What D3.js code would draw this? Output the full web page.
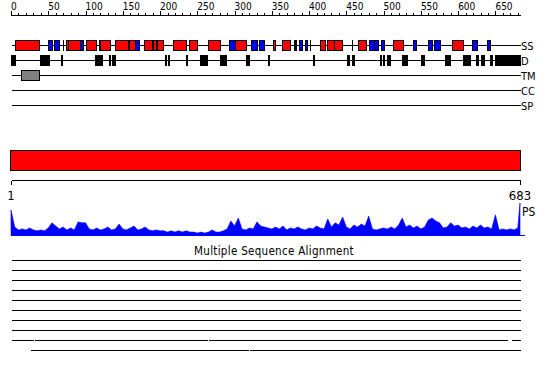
<!DOCTYPE html>
<html>
<head>
<meta charset="utf-8">
<script src="https://cdn.jsdelivr.net/npm/d3@7"></script>
<style>
  body { margin: 0; background: #fff; }
  svg { display: block; }
  text { font-family: "DejaVu Sans Condensed", "DejaVu Sans", sans-serif; fill: #000; }
</style>
</head>
<body>
<div id="chart"></div>
<script>
// sequence length and ruler ticks
const seqLength = 683;
const rulerMajor = [0, 50, 100, 150, 200, 250, 300, 350, 400, 450, 500, 550, 600, 650];
const rulerMinor = d3.range(0, 681, 10);

// track names, top to bottom
const tracks = ['SS', 'D', 'TM', 'CC', 'SP'];

// secondary structure: helices (red) and strands (blue), residue ranges
const helices = [[6,38],[74,93],[101,114],[119,133],[140,157],[159,167],[179,189],[190,194],
  [196,204],[218,235],[239,249],[265,281],[300,316],[351,354],[363,374],[414,421],[424,433],
  [434,444],[465,477],[513,526],[592,606]];
const strands = [[50,55],[58,64],[93,96],[118,119],[167,172],[292,300],[322,330],[333,340],
  [381,383],[387,391],[395,397],[481,487],[487,493],[497,501],[539,544],[560,565],[568,576],
  [619,625],[639,643]];
const ssSingles = [70, 77, 380, 394, 401, 457];

// disordered regions
const disorder = [[0,6],[39,51],[67,69],[113,122],[131,133],[135,140],[207,208],[211,212],
  [235,235],[253,263],[280,280],[282,288],[315,319],[345,346],[405,406],[451,453],[458,460],
  [495,497],[499,501],[504,508],[525,528],[529,532],[550,554],[582,589],[607,616],[624,627],
  [630,635],[643,645],[650,683]];

// transmembrane
const transmem = [[13,37]];

// conservation profile (PS), one value every 5 residues, last one at residue 683
const consStep = 5;
const consValues = [78,25,16,19,16,22,16,13,16,13,22,38,28,19,25,16,22,16,41,38,
  38,19,16,22,16,19,25,16,19,34,19,16,22,28,16,19,25,16,13,16,
  13,13,9,13,9,13,9,13,9,9,6,9,6,9,16,9,9,13,19,44,
  28,53,19,16,22,19,41,28,25,22,19,25,19,28,16,22,19,25,19,16,
  22,19,28,22,19,50,25,38,31,56,25,19,31,25,34,28,59,19,16,19,
  22,19,25,19,31,53,25,31,22,28,19,25,47,53,44,38,22,25,38,28,
  31,22,25,19,28,22,31,22,25,19,63,16,19,16,19,16,22,100];

// multiple sequence alignment hits, residue ranges per row
const alignRows = [
  [[0,683]],[[0,683]],[[0,683]],[[0,683]],[[0,683]],
  [[0,683]],[[0,683]],[[0,683]],
  [[0,29],[31,263],[265,666],[671,683]],
  [[26,318],[320,683]]
];

const w = 550, h = 380;
const svg = d3.select('#chart').append('svg')
  .attr('width', w)
  .attr('height', h);

const xScale = d3.scaleLinear().domain([0, seqLength]).range([11, 520]);
const px = v => Math.round(xScale(v)) + 0.5;

// top ruler
const ruler = svg.append('g').attr('stroke', '#000').attr('shape-rendering', 'crispEdges');
ruler.append('line')
  .attr('x1', px(0)).attr('x2', px(seqLength))
  .attr('y1', 15.5).attr('y2', 15.5);
ruler.selectAll('.minor')
  .data(rulerMinor)
  .enter()
  .append('line')
  .attr('x1', d => px(d)).attr('x2', d => px(d))
  .attr('y1', d => d % 50 === 0 ? 11 : 12.5)
  .attr('y2', 15.5);
svg.selectAll('.rlabel')
  .data(rulerMajor)
  .enter()
  .append('text')
  .attr('x', d => xScale(d))
  .attr('y', 10)
  .attr('font-size', 10)
  .text(d => d);

// track baselines and labels
const trackY = d3.scalePoint().domain(tracks).range([45, 105]);
svg.selectAll('.tline')
  .data(tracks)
  .enter()
  .append('line')
  .attr('x1', px(0)).attr('x2', px(seqLength))
  .attr('y1', d => trackY(d) + 0.5).attr('y2', d => trackY(d) + 0.5)
  .attr('stroke', '#000')
  .attr('shape-rendering', 'crispEdges');
svg.selectAll('.tlabel')
  .data(tracks)
  .enter()
  .append('text')
  .attr('x', 521)
  .attr('y', d => trackY(d) + 4.5)
  .attr('font-size', 11)
  .text(d => d);

function drawBoxes(data, track, fill) {
  svg.append('g')
    .selectAll('rect')
    .data(data)
    .enter()
    .append('rect')
    .attr('x', d => px(d[0]))
    .attr('y', trackY(track) - 4.5)
    .attr('width', d => Math.max(px(d[1]) - px(d[0]), 1))
    .attr('height', 10)
    .attr('fill', fill)
    .attr('stroke', '#000')
    .attr('shape-rendering', 'crispEdges');
}
drawBoxes(helices, 'SS', '#ff0000');
drawBoxes(strands, 'SS', '#0000ff');
svg.append('g')
  .selectAll('line')
  .data(ssSingles)
  .enter()
  .append('line')
  .attr('x1', d => px(d)).attr('x2', d => px(d))
  .attr('y1', trackY('SS') - 5).attr('y2', trackY('SS') + 6)
  .attr('stroke', '#000')
  .attr('shape-rendering', 'crispEdges');
drawBoxes(disorder, 'D', '#000');
drawBoxes(transmem, 'TM', '#808080');

// domain bar
svg.append('rect')
  .attr('x', px(0) - 1)
  .attr('y', 150.5)
  .attr('width', px(seqLength) - px(0) + 1)
  .attr('height', 20)
  .attr('fill', '#ff0000')
  .attr('stroke', '#000')
  .attr('shape-rendering', 'crispEdges');

// bottom ruler 1..683
const bottom = svg.append('g').attr('stroke', '#000').attr('shape-rendering', 'crispEdges');
bottom.append('line')
  .attr('x1', px(0)).attr('x2', px(seqLength))
  .attr('y1', 180.5).attr('y2', 180.5);
bottom.selectAll('.btick')
  .data([0, seqLength])
  .enter()
  .append('line')
  .attr('x1', d => px(d)).attr('x2', d => px(d))
  .attr('y1', 180.5).attr('y2', 185);
svg.selectAll('.blabel')
  .data([[0, '1'], [seqLength, String(seqLength)]])
  .enter()
  .append('text')
  .attr('x', d => xScale(d[0]))
  .attr('y', 200)
  .attr('font-size', 13)
  .attr('text-anchor', 'middle')
  .text(d => d[1]);

// conservation area
const yCons = d3.scaleLinear().domain([0, 100]).range([235, 203]);
const consData = consValues.map((v, i) => [Math.min(i * consStep, seqLength), v]);
const area = d3.area()
  .x(d => xScale(d[0]))
  .y0(yCons(0))
  .y1(d => yCons(d[1]));
svg.append('path')
  .datum(consData)
  .attr('d', area)
  .attr('fill', '#0000ff')
  .attr('stroke', '#0000ff')
  .attr('stroke-width', 0.6);
svg.append('line')
  .attr('x1', px(0) - 1).attr('x2', px(seqLength) + 4)
  .attr('y1', 235.5).attr('y2', 235.5)
  .attr('stroke', '#0000ff')
  .attr('shape-rendering', 'crispEdges');
svg.append('text')
  .attr('x', 522)
  .attr('y', 216)
  .attr('font-size', 12)
  .text('PS');

// multiple sequence alignment
svg.append('text')
  .attr('x', 274)
  .attr('y', 255)
  .attr('font-family', '"DejaVu Sans", sans-serif')
  .attr('font-size', 11.5)
  .attr('letter-spacing', 0.3)
  .attr('text-anchor', 'middle')
  .text('Multiple Sequence Alignment');
alignRows.forEach((segs, i) => {
  svg.append('g')
    .selectAll('line')
    .data(segs)
    .enter()
    .append('line')
    .attr('x1', d => px(d[0]))
    .attr('x2', d => px(d[1]))
    .attr('y1', 260.5 + i * 10)
    .attr('y2', 260.5 + i * 10)
    .attr('stroke', '#000')
    .attr('shape-rendering', 'crispEdges');
});
</script>
</body>
</html>
